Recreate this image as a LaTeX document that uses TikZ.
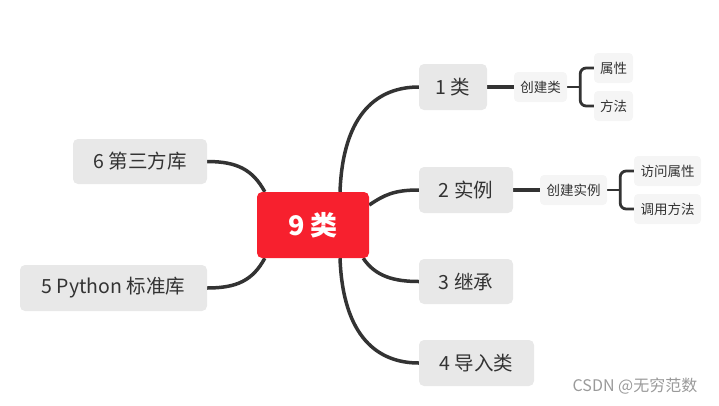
\documentclass[tikz,border=0pt]{standalone}
\usepackage{fontspec}
\setmainfont{Noto Sans CJK SC}
\usetikzlibrary{calc,backgrounds}
\definecolor{xred}{HTML}{F7202E}
\definecolor{xgray}{HTML}{E8E8E8}
\definecolor{xlight}{HTML}{F5F5F5}
\definecolor{xtext}{HTML}{333333}
\definecolor{xline}{HTML}{333333}
\definecolor{xwm}{HTML}{9A9A9A}
\begin{document}
\begin{tikzpicture}[x=1pt,y=-1pt,
  mainbox/.style={fill=xred, rounded corners=5pt, text=white, font=\fontsize{27}{27}\selectfont\bfseries, minimum width=112pt, minimum height=66pt, inner sep=0pt},
  topic/.style={fill=xgray, rounded corners=5pt, text=xtext, font=\fontsize{19.5}{19.5}\selectfont, minimum height=46pt, inner sep=0pt},
  subtopic/.style={fill=xlight, rounded corners=4pt, text=xtext, font=\fontsize{13.5}{13.5}\selectfont, minimum height=30pt, inner sep=0pt},
  link/.style={draw=xline, line width=3.5pt},
  sublink/.style={draw=xline, line width=2.8pt, rounded corners=6pt}
]
\useasboundingbox (0,0) rectangle (719,405);
\node[mainbox] (c) at (313,225) {9 类};
\node[topic, minimum width=68pt] (t1) at (453,87) {1 类};
\node[topic, minimum width=94pt] (t2) at (466,190) {2 实例};
\node[topic, minimum width=94pt, minimum height=45pt] (t3) at (466,281.5) {3 继承};
\node[topic, minimum width=115pt] (t4) at (476.5,363) {4 导入类};
\node[topic, minimum width=134pt, minimum height=45pt] (t6) at (140,161.5) {6 第三方库};
\node[topic, minimum width=187pt] (t5) at (113.5,288) {5 Python 标准库};
\node[subtopic, minimum width=53pt] (s1) at (540.5,87) {创建类};
\node[subtopic, minimum width=39pt] (a1) at (613.5,68) {属性};
\node[subtopic, minimum width=39pt] (a2) at (613.5,106) {方法};
\node[subtopic, minimum width=67pt] (s2) at (573.5,190) {创建实例};
\node[subtopic, minimum width=67pt] (b1) at (667.5,171) {访问属性};
\node[subtopic, minimum width=67pt] (b2) at (667.5,209) {调用方法};
\node[text=xwm, font=\fontsize{16}{16}\selectfont, inner sep=0pt] (wm) at (635,386) {CSDN @无穷范数};
\begin{scope}[on background layer]
\draw[link] ([xshift=27pt]c.north) .. controls +(3,-80) and +(-40,0) .. (t1.west);
\draw[link] ([xshift=27pt]c.south) .. controls +(3,80) and +(-40,0) .. (t4.west);
\draw[link] ([yshift=20pt]c.east) .. controls +(15,-10) and +(-25,0) .. (t2.west);
\draw[link] ([xshift=-6pt]c.south east) .. controls +(12,18) and +(-25,0) .. (t3.west);
\draw[link] ([xshift=8pt]c.north west) .. controls +(-12,-22) and +(30,0) .. (t6.east);
\draw[link] ([xshift=8pt]c.south west) .. controls +(-12,22) and +(30,0) .. (t5.east);
\draw[link] (t1.east) -- (s1.west);
\draw[link] (t2.east) -- (s2.west);
\coordinate (j1) at ($(s1.east)+(13,0)$);
\coordinate (j2) at ($(s2.east)+(13,0)$);
\draw[sublink] (s1.east) -- (j1);
\draw[sublink] (a1.west) -| (j1) |- (a2.west);
\draw[sublink] (s2.east) -- (j2);
\draw[sublink] (b1.west) -| (j2) |- (b2.west);
\end{scope}
\end{tikzpicture}
\end{document}
